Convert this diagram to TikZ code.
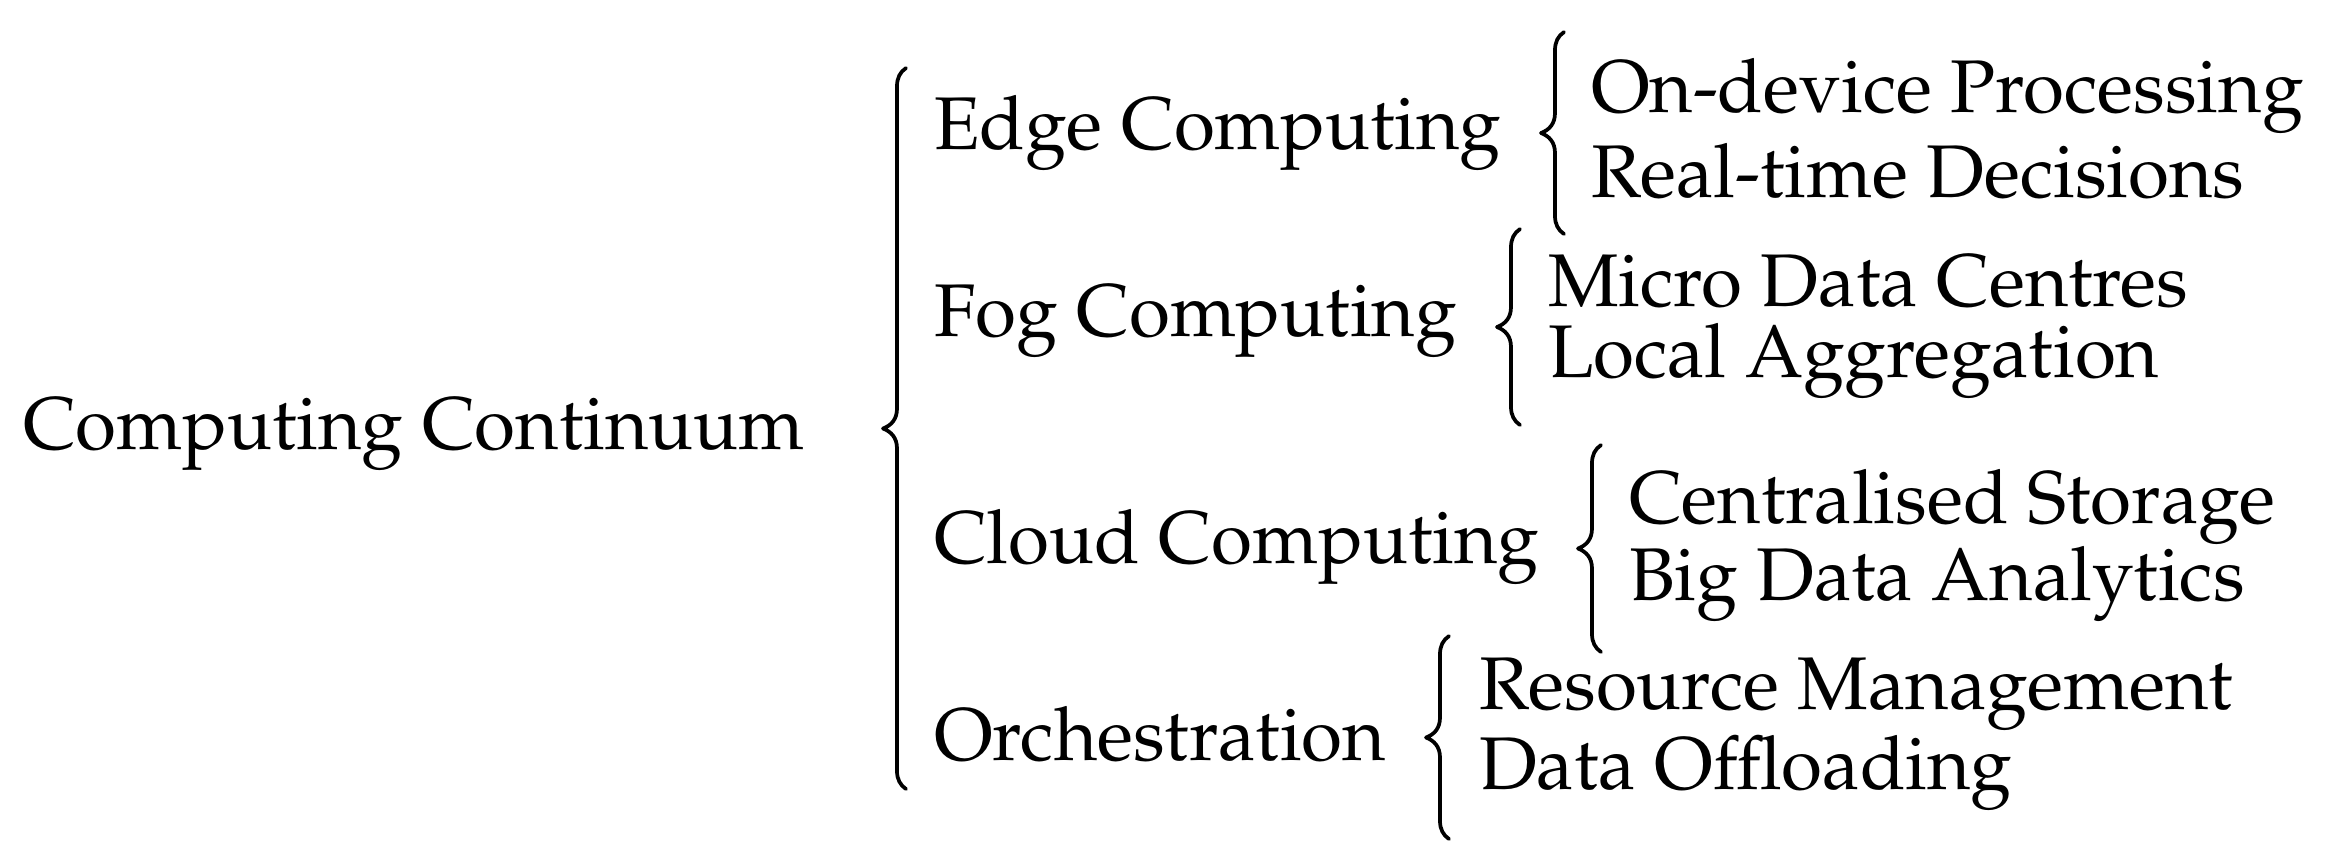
\documentclass[tikz,border=0pt]{standalone}
\usepackage[T1]{fontenc}
\usepackage{mathpazo}
\tikzset{
  lbl/.style={anchor=base west, inner sep=0pt, outer sep=0pt},
  bracestyle/.style={line width=0.5pt, line cap=round, line join=round}
}
\newcommand{\tbrace}[3]{%
  \pgfmathsetmacro{\cbX}{#1}%
  \pgfmathsetmacro{\cbT}{#2}%
  \pgfmathsetmacro{\cbB}{#3}%
  \pgfmathsetmacro{\cbM}{(#2+#3)/2}%
  \draw[bracestyle] ({\cbX+9},\cbT) .. controls ({\cbX+3},{\cbT+4}) and (\cbX,{\cbT+10}) .. (\cbX,{\cbT+18})
    -- (\cbX,{\cbM-20}) .. controls (\cbX,{\cbM-9}) and ({\cbX-6},{\cbM-3}) .. ({\cbX-14},\cbM)
    .. controls ({\cbX-6},{\cbM+3}) and (\cbX,{\cbM+9}) .. (\cbX,{\cbM+20})
    -- (\cbX,{\cbB-18}) .. controls (\cbX,{\cbB-10}) and ({\cbX+3},{\cbB-4}) .. ({\cbX+9},\cbB);%
}
\begin{document}
\begin{tikzpicture}[x=0.134pt, y=-0.134pt]
\useasboundingbox (0,0) rectangle (2327,864);
% root
\node[lbl] (root) at (23,449) {Computing Continuum};
\tbrace{897}{68}{789}
% level 1
\node[lbl] (edge) at (934,149) {Edge Computing};
\node[lbl] (fog) at (934,336) {Fog Computing};
\node[lbl] (cloud) at (934,563) {Cloud Computing};
\node[lbl] (orch) at (934,760) {Orchestration};
% edge
\tbrace{1555}{32}{234}
\node[lbl] (e1) at (1591,112) {On-device Processing};
\node[lbl] (e2) at (1591,197) {Real-time Decisions};
% fog
\tbrace{1511}{229}{425}
\node[lbl] (f1) at (1548,306) {Micro Data Centres};
\node[lbl] (f2) at (1548,377) {Local Aggregation};
% cloud
\tbrace{1592}{445}{652}
\node[lbl] (c1) at (1629,523) {Centralised Storage};
\node[lbl] (c2) at (1629,600) {Big Data Analytics};
% orchestration
\tbrace{1440}{636}{839}
\node[lbl] (o1) at (1479,709) {Resource Management};
\node[lbl] (o2) at (1479,789) {Data Offloading};
\end{tikzpicture}
\end{document}
